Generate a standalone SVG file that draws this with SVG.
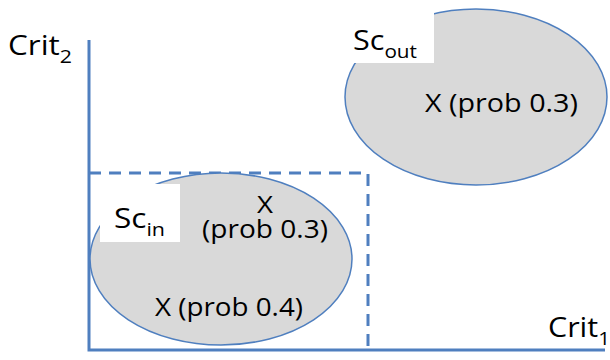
<svg xmlns="http://www.w3.org/2000/svg" width="610" height="360" viewBox="0 0 610 360">
<style>
.t{font-family:"Open Sans","Liberation Sans",sans-serif;fill:#000}
.ax{stroke:#4f7fbf;stroke-width:3;fill:none}
.dash{stroke:#4f7fbf;stroke-width:3;fill:none;stroke-dasharray:12,8}
.el{fill:#d9d9d9;stroke:#4f7fbf;stroke-width:1.5}
.lb{fill:#fff}
</style>
<rect width="610" height="360" fill="#fff"/>
<g id="connectors">
<path class="ax" d="M89,40 V350 H605"/>
<path class="dash" d="M89,173 H368 V350"/>
</g>
<g id="sc-out">
<ellipse class="el" cx="476" cy="97" rx="131" ry="88"/>
<rect class="lb" x="337" y="4" width="97" height="59"/>
<text class="t" x="353" y="50" font-size="28" textLength="64" lengthAdjust="spacingAndGlyphs">Sc<tspan font-size="19" dy="8">out</tspan></text>
<text class="t" x="425" y="112" font-size="25" textLength="153" lengthAdjust="spacingAndGlyphs">X (prob 0.3)</text>
</g>
<g id="sc-in">
<ellipse class="el" cx="221" cy="259" rx="131" ry="86"/>
<rect class="lb" x="100" y="184" width="80" height="58"/>
<text class="t" x="114" y="228" font-size="28" textLength="51" lengthAdjust="spacingAndGlyphs">Sc<tspan font-size="19" dy="8">in</tspan></text>
<text class="t" x="257" y="213" font-size="24" textLength="16" lengthAdjust="spacingAndGlyphs">X</text>
<text class="t" x="202" y="238" font-size="25" textLength="126" lengthAdjust="spacingAndGlyphs">(prob 0.3)</text>
<text class="t" x="155" y="316" font-size="25" textLength="148" lengthAdjust="spacingAndGlyphs">X (prob 0.4)</text>
</g>
<g id="labels">
<text class="t" x="8" y="55" font-size="28" textLength="64" lengthAdjust="spacingAndGlyphs">Crit<tspan font-size="19" dy="8">2</tspan></text>
<text class="t" x="548" y="337" font-size="28" textLength="62" lengthAdjust="spacingAndGlyphs">Crit<tspan font-size="19" dy="8">1</tspan></text>
</g>
</svg>
